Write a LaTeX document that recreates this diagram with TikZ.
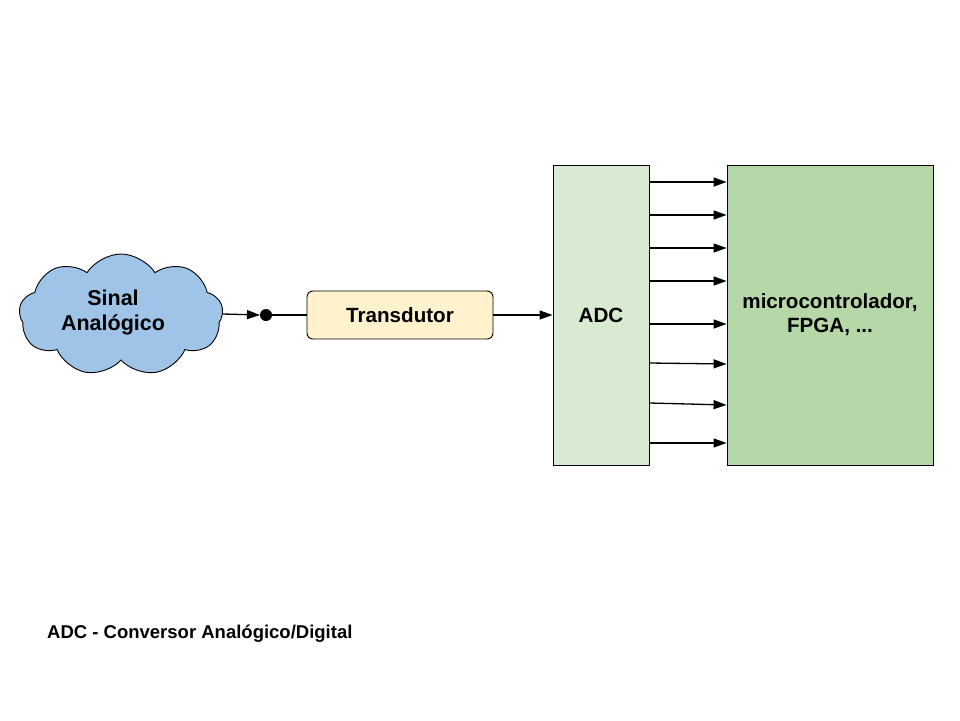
\documentclass[tikz,border=0pt]{standalone}
\usepackage{fontspec}
\setmainfont{Liberation Sans}
\usepackage{tikz}
\usetikzlibrary{shapes.symbols,arrows.meta}
\definecolor{cloudblue}{RGB}{160,196,232}
\definecolor{transyellow}{RGB}{255,242,204}
\definecolor{adcgreen}{RGB}{217,234,211}
\definecolor{mcugreen}{RGB}{182,215,168}

\begin{document}
\begin{tikzpicture}[x=1pt, y=-1pt,
    every node/.style={font=\fontsize{20.6}{24}\selectfont\bfseries, align=center, inner sep=0pt},
    block/.style={draw, line width=0.9pt},
    link/.style={line width=1.3pt, -{Triangle[length=13pt, width=9pt]}}]
    \useasboundingbox (0,0) rectangle (960,720);

    % Signal source
    \node[cloud, cloud puffs=9, cloud puff arc=115, aspect=1.7, draw, line width=0.9pt,
          fill=cloudblue, minimum width=204, minimum height=122] (sinal) at (121,315) {};
    \node[font=\fontsize{21.5}{25}\selectfont\bfseries] (sinaltext) at (113,312) {Sinal\\Anal\'ogico};
    \fill (266,315) circle (6) coordinate (dot);

    % Blocks
    \node[block, rounded corners=6pt, fill=transyellow, minimum width=186, minimum height=48] (trans) at (400,315) {Transdutor};
    \node[block, fill=adcgreen, minimum width=96, minimum height=300] (adc) at (601,315) {ADC};
    \node[block, fill=mcugreen, minimum width=206, minimum height=300] (mcu) at (830,315) {microcontrolador,\\FPGA, ...};

    % Connections
    \draw[link] (sinal.east |- 0,314) -- ([xshift=-6pt]dot);
    \draw[line width=1.3pt] (dot) -- (trans.west);
    \draw[link] (trans.east) -- (adc.west);

    % Parallel output bits
    \foreach \ya/\yb in {182/182, 215/215, 248/248, 281/281, 324/324, 363/364, 403/405, 443/443}
        \draw[link] (adc.east |- 0,\ya) -- (mcu.west |- 0,\yb);

    % Legend
    \node[anchor=west, font=\fontsize{18.5}{22}\selectfont\bfseries] (legend) at (47,634) {ADC - Conversor Anal\'ogico/Digital};
\end{tikzpicture}
\end{document}
